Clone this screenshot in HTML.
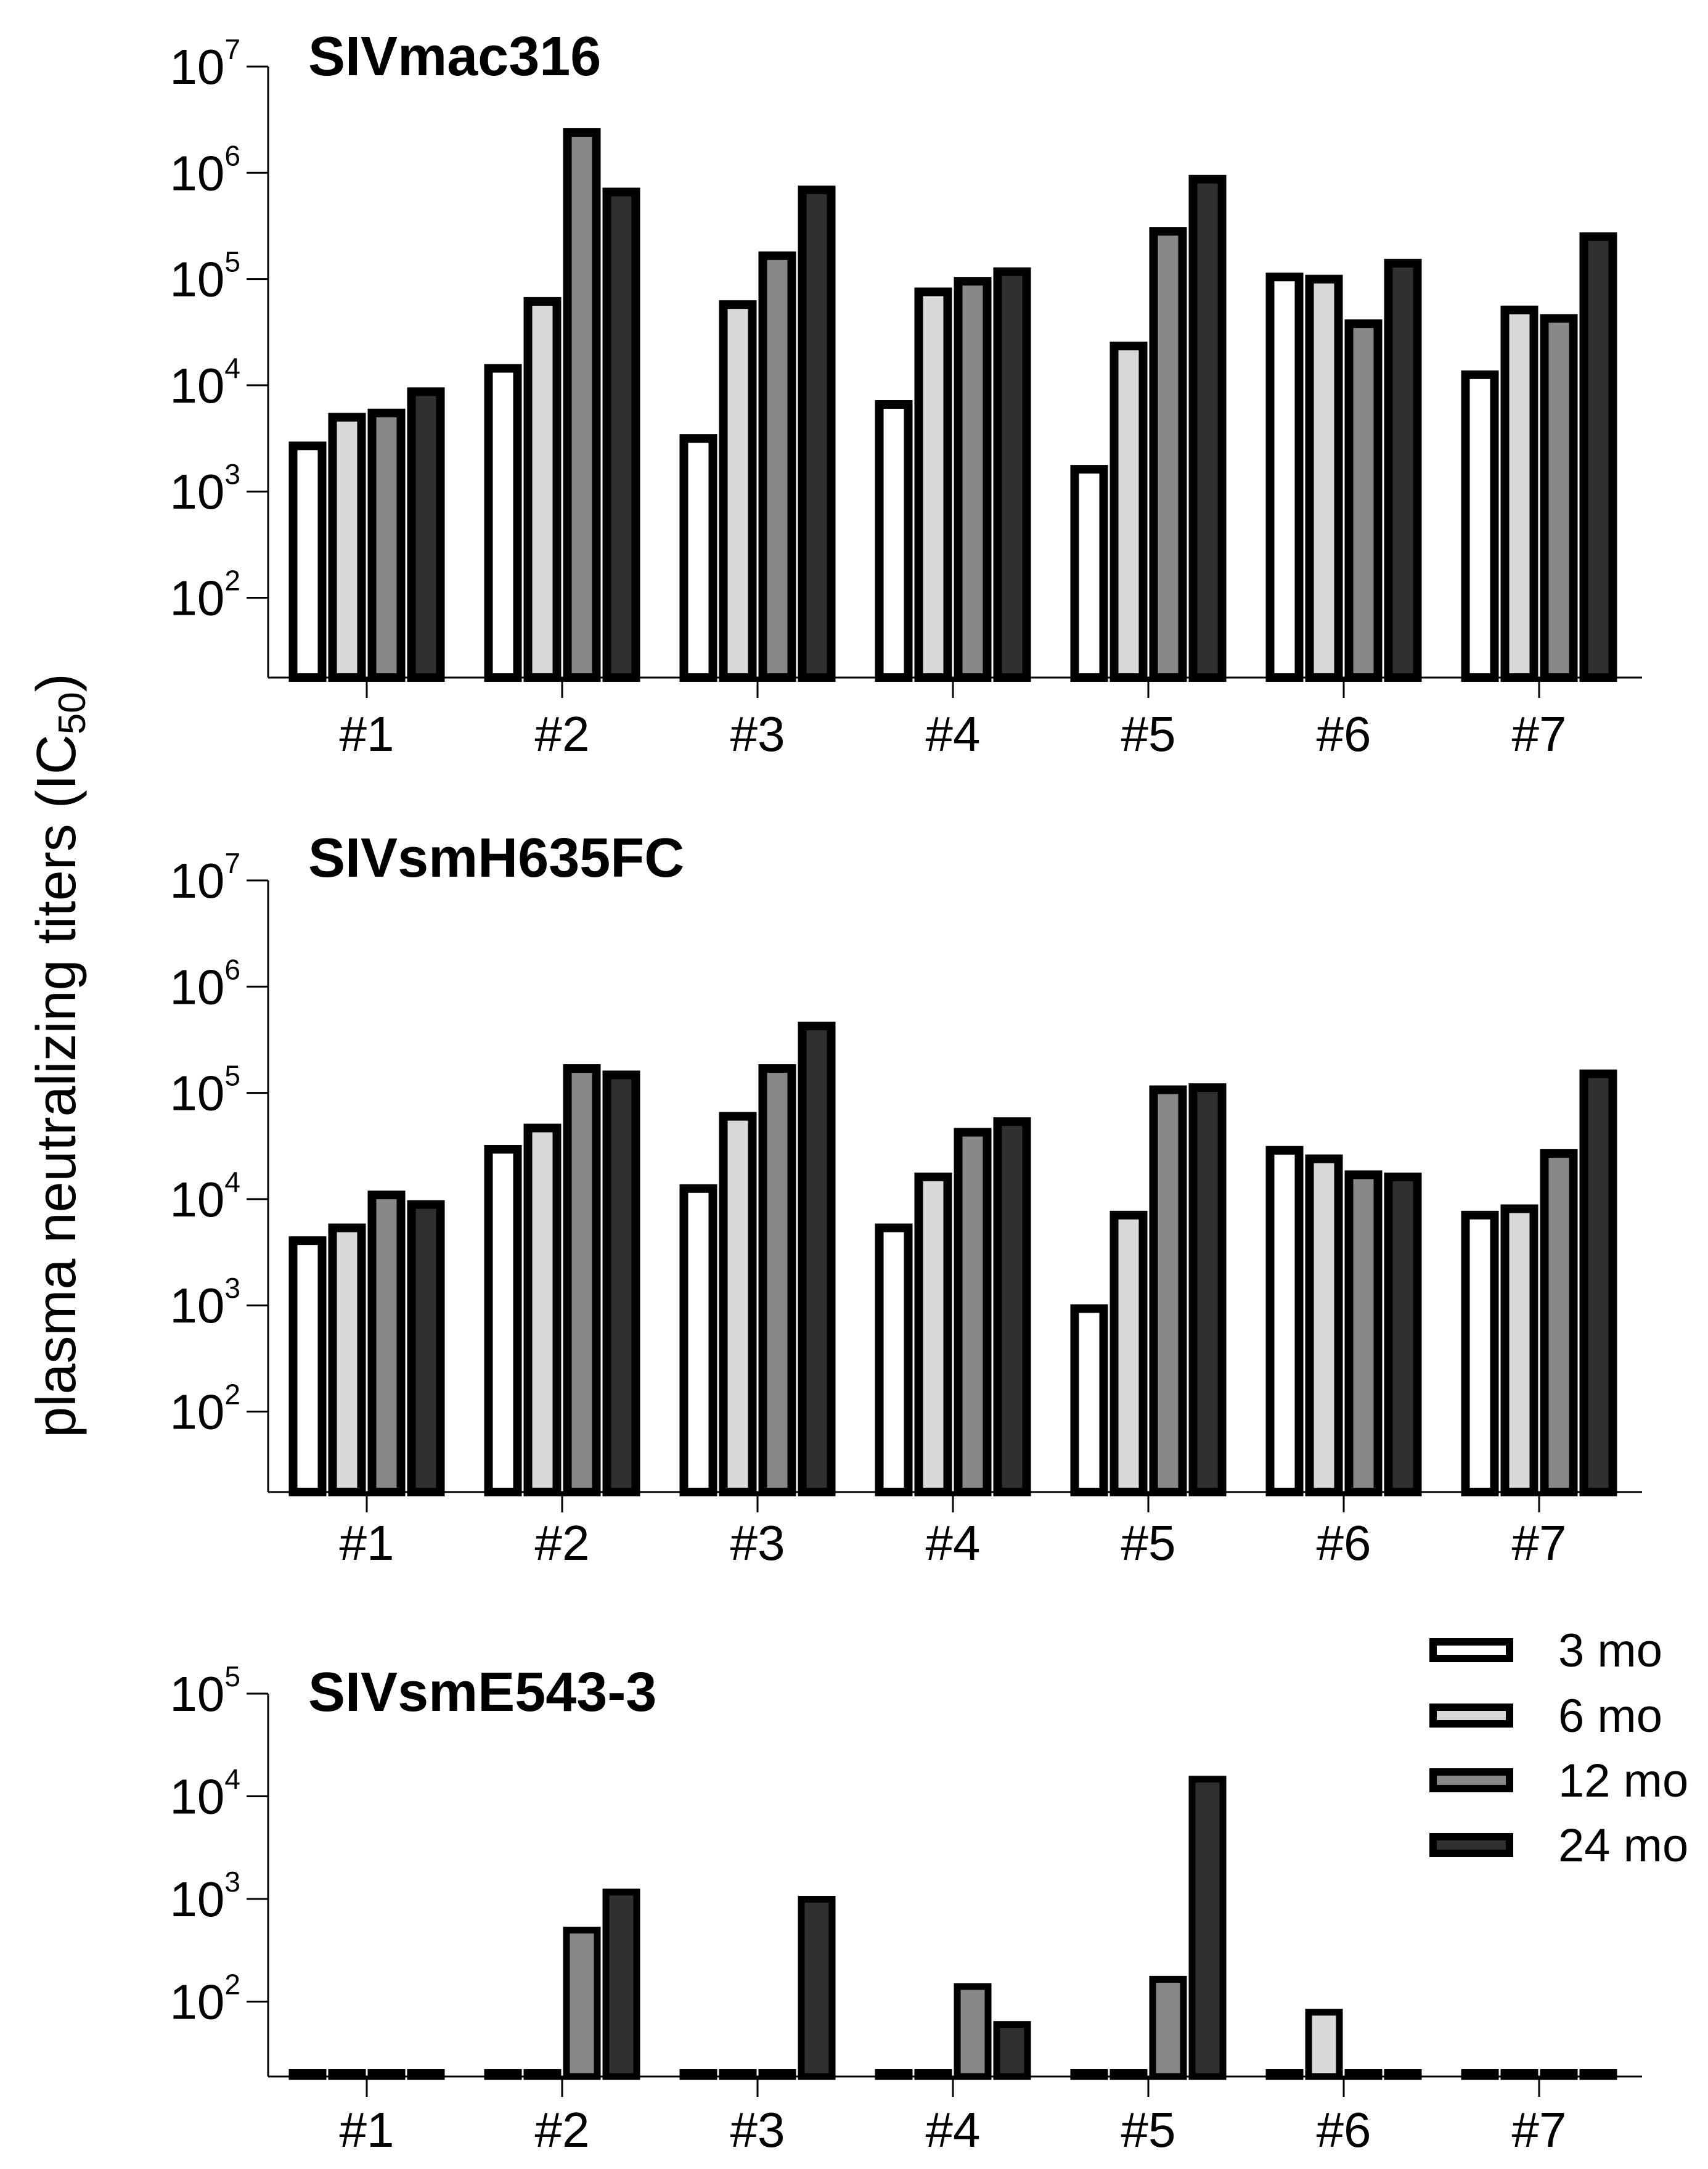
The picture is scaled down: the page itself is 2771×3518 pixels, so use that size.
<!DOCTYPE html>
<html><head><meta charset="utf-8"><style>
html,body{margin:0;padding:0;background:#fff;}
svg{display:block;font-family:"Liberation Sans",Arial,sans-serif;}
</style></head><body>
<svg id="chart" width="2771" height="3518" viewBox="0 0 2771 3518" xmlns="http://www.w3.org/2000/svg">
<text transform="translate(122,1712) rotate(-90)" text-anchor="middle" font-size="90" fill="#000">plasma neutralizing  titers (IC<tspan font-size="62" dy="16">50</tspan><tspan dy="-16">)</tspan></text>
<g id="legend"></g>
</svg>
<script>
// categories and series (log10 of IC50 titers)
const animals = ["#1","#2","#3","#4","#5","#6","#7"];
const seriesNames = ["3 mo","6 mo","12 mo","24 mo"];
const seriesFill = ["#ffffff","#d8d8d8","#888888","#303030"];
const mac316_3mo  = [3.47,4.20,3.54,3.86,3.25,5.06,4.14];
const mac316_6mo  = [3.74,4.83,4.80,4.92,4.41,5.04,4.75];
const mac316_12mo = [3.78,6.42,5.26,5.02,5.49,4.62,4.67];
const mac316_24mo = [3.98,5.86,5.88,5.11,5.98,5.19,5.44];
const h635_3mo  = [3.65,4.51,4.14,3.77,3.01,4.50,3.89];
const h635_6mo  = [3.77,4.71,4.82,4.25,3.89,4.42,3.95];
const h635_12mo = [4.08,5.27,5.27,4.67,5.07,4.27,4.47];
const h635_24mo = [3.99,5.21,5.67,4.77,5.09,4.25,5.22];
// null = below detection (drawn as flat bar)
const e543_3mo  = [null,null,null,null,null,null,null];
const e543_6mo  = [null,null,null,null,null,1.93,null];
const e543_12mo = [null,2.73,null,2.18,2.25,null,null];
const e543_24mo = [null,3.10,3.03,1.81,4.20,null,null];
const ticks57 = [2,3,4,5,6,7];
const ticks25 = [2,3,4,5];

const NS="http://www.w3.org/2000/svg";
const svg=document.getElementById('chart');
function mk(tag,attrs,parent){const e=document.createElementNS(NS,tag);for(const k in attrs)e.setAttribute(k,attrs[k]);(parent||svg).appendChild(e);return e;}

const panels=[
 {title:"SIVmac316",key:"mac316",series:[mac316_3mo,mac316_6mo,mac316_12mo,mac316_24mo],ticks:ticks57,topVal:7,topY:108,decade:172.3,base:1099,labelY:1218,titleY:122,sw:14},
 {title:"SIVsmH635FC",key:"h635",series:[h635_3mo,h635_6mo,h635_12mo,h635_24mo],ticks:ticks57,topVal:7,topY:1428,decade:172.3,base:2420,labelY:2530,titleY:1422,sw:14},
 {title:"SIVsmE543-3",key:"e543",series:[e543_3mo,e543_6mo,e543_12mo,e543_24mo],ticks:ticks25,topVal:5,topY:2747,decade:166.5,base:3368,labelY:3482,titleY:2775,sw:11}
];
const axisX=435, axisRight=2664, x0=595, step=317, barStep=64, barW=61;
function xCat(i){return x0+i*step;}

panels.forEach(p=>{
 const g=mk('g',{});
 
 
 const y=v=>p.topY+(p.topVal-v)*p.decade;
 const t=mk('text',{x:500,y:p.titleY,'font-size':90,'font-weight':'bold',fill:'#000'},g);
 t.textContent=p.title;
 
 
 p.series.forEach((arr,s)=>{
  arr.forEach((v,i)=>{
   const cx=xCat(i)+(s-1.5)*barStep;
   let top=(v===null)?p.base-12:y(v);
   const r=mk('rect',{x:cx-barW/2+p.sw/2,y:top+p.sw/2,width:barW-p.sw,height:Math.max(0,p.base-top-p.sw/2),fill:seriesFill[s],stroke:'#000','stroke-width':p.sw},g);
   
   
  });
 });
 const ya=mk('line',{x1:axisX,y1:p.topY,x2:axisX,y2:p.base,stroke:'#000','stroke-width':3},g);
 
 
 const xa=mk('line',{x1:axisX,y1:p.base,x2:axisRight,y2:p.base,stroke:'#000','stroke-width':3},g);
 
 
 p.ticks.forEach(tv=>{
  const ty=y(tv);
  mk('line',{x1:axisX-35,y1:ty,x2:axisX,y2:ty,stroke:'#000','stroke-width':3},g);
  const lt=mk('text',{x:390,y:ty+28,'font-size':80,'text-anchor':'end',fill:'#000'},g);
  
  
  const a=document.createElementNS(NS,'tspan');a.textContent='10';lt.appendChild(a);
  const b=document.createElementNS(NS,'tspan');b.setAttribute('font-size','46');b.setAttribute('dy','-40');b.textContent=String(tv);lt.appendChild(b);
 });
 animals.forEach((a,i)=>{
  mk('line',{x1:xCat(i),y1:p.base,x2:xCat(i),y2:p.base+33,stroke:'#000','stroke-width':3},g);
  const xt=mk('text',{x:xCat(i),y:p.labelY,'font-size':80,'text-anchor':'middle',fill:'#000'},g);
  xt.textContent=a;
  
  
 });
});

const lg=document.getElementById('legend');
const legY=[2657,2763,2868,2973];
seriesNames.forEach((n,s)=>{
 const e=mk('g',{},lg);
 
 
 mk('rect',{x:2325,y:legY[s]+6,width:124,height:27,fill:seriesFill[s],stroke:'#000','stroke-width':12},e);
 const t=mk('text',{x:2528,y:legY[s]+46,'font-size':76,fill:'#000'},e);
 t.textContent=n;
});
</script>
</body></html>
